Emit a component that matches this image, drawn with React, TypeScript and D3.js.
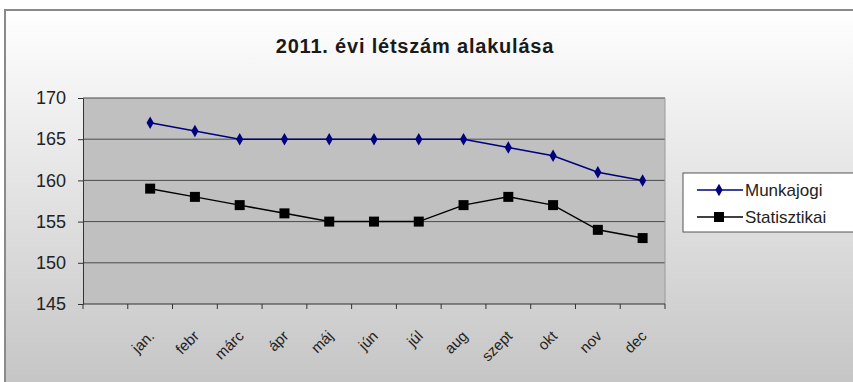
import React, { useEffect, useRef } from 'react';
import { select, scaleBand, scaleLinear, axisLeft, line, symbol, symbolDiamond, symbolSquare } from 'd3';

const months = ['jan.', 'febr', 'márc', 'ápr', 'máj', 'jún', 'júl', 'aug', 'szept', 'okt', 'nov', 'dec'];
const munkajogi = [167, 166, 165, 165, 165, 165, 165, 165, 164, 163, 161, 160];
const statisztikai = [159, 158, 157, 156, 155, 155, 155, 157, 158, 157, 154, 153];
const yTicks = [145, 150, 155, 160, 165, 170];

const W = 853;
const H = 382;
const font = 'Arial, "Liberation Sans", sans-serif';

function App() {
    const ref = useRef<SVGSVGElement>(null);

    useEffect(() => {
        const svg = select(ref.current);
        svg.selectAll('*').remove();

        const plot = { left: 83, right: 665, top: 98, bottom: 304 };

        const defs = svg.append('defs');
        const grad = defs.append('linearGradient')
            .attr('id', 'bg').attr('x1', 0).attr('y1', 0).attr('x2', 0).attr('y2', 1);
        grad.append('stop').attr('offset', '0%').attr('stop-color', '#ffffff');
        grad.append('stop').attr('offset', '100%').attr('stop-color', '#c4c4c4');

        svg.append('rect').attr('width', W).attr('height', H).attr('fill', '#ffffff');
        svg.append('rect')
            .attr('x', 5).attr('y', 10).attr('width', W).attr('height', H)
            .attr('fill', 'url(#bg)')
            .attr('stroke', '#8a8a8a').attr('stroke-width', 2);

        // title
        svg.append('text')
            .attr('x', 415).attr('y', 53)
            .attr('text-anchor', 'middle')
            .attr('font-family', font).attr('font-weight', 'bold').attr('font-size', 20)
            .attr('letter-spacing', 0.8)
            .attr('fill', '#1a1a1a')
            .text('2011. évi létszám alakulása');

        // x: first band empty, like the original sheet
        const xScale = scaleBand<string>()
            .domain(['', ...months])
            .range([plot.left, plot.right]);

        const yScale = scaleLinear()
            .domain([145, 170])
            .range([plot.bottom, plot.top]);

        svg.append('rect')
            .attr('x', plot.left).attr('y', plot.top)
            .attr('width', plot.right - plot.left).attr('height', plot.bottom - plot.top)
            .attr('fill', '#c0c0c0');

        // gridlines
        svg.append('g').selectAll('line')
            .data(yTicks.slice(1))
            .join('line')
            .attr('x1', plot.left).attr('x2', plot.right)
            .attr('y1', d => yScale(d)).attr('y2', d => yScale(d))
            .attr('stroke', '#4a4a4a').attr('stroke-width', 1);

        svg.append('line')
            .attr('x1', plot.right).attr('x2', plot.right)
            .attr('y1', plot.top).attr('y2', plot.bottom)
            .attr('stroke', '#9a9a9a');

        // y axis
        const yAxis = svg.append('g')
            .attr('transform', `translate(${plot.left},0)`)
            .call(axisLeft(yScale).tickValues(yTicks).tickSize(5).tickPadding(12).tickSizeOuter(0));
        yAxis.select('.domain').attr('stroke', '#333');
        yAxis.selectAll('line').attr('stroke', '#333');
        yAxis.selectAll('text')
            .attr('font-family', font).attr('font-size', 18).attr('fill', '#222');

        // x axis
        const xg = svg.append('g');
        xg.append('line')
            .attr('x1', plot.left).attr('x2', plot.right)
            .attr('y1', plot.bottom).attr('y2', plot.bottom)
            .attr('stroke', '#333');
        const edges = xScale.domain().map(d => xScale(d) as number).concat([plot.right]);
        xg.selectAll('.tick')
            .data(edges)
            .join('line')
            .attr('class', 'tick')
            .attr('x1', d => d).attr('x2', d => d)
            .attr('y1', plot.bottom).attr('y2', plot.bottom + 5)
            .attr('stroke', '#333');
        const lx = (d: string) => (xScale(d) as number) + xScale.bandwidth() / 2 + 5;
        const ly = plot.bottom + 33;
        const lbl = xg.selectAll('.lbl')
            .data(months)
            .join('g')
            .attr('class', 'lbl')
            .attr('transform', d => `translate(${lx(d)},${ly}) rotate(-45)`);
        lbl.append('text')
            .attr('text-anchor', 'end')
            .attr('font-family', font).attr('font-size', 15).attr('fill', '#222')
            .text(d => d);

        const cx = (i: number) => (xScale(months[i]) as number) + xScale.bandwidth() / 2;

        const series = [
            { name: 'Munkajogi', values: munkajogi, color: '#000080', sym: symbolDiamond, size: 45 },
            { name: 'Statisztikai', values: statisztikai, color: '#000000', sym: symbolSquare, size: 100 },
        ];

        series.forEach(s => {
            const ln = line<number>().x((_, i) => cx(i)).y(d => yScale(d));
            svg.append('path')
                .datum(s.values)
                .attr('d', ln)
                .attr('fill', 'none')
                .attr('stroke', s.color)
                .attr('stroke-width', 1.5);
            svg.append('g').selectAll('path')
                .data(s.values)
                .join('path')
                .attr('transform', (d, i) => `translate(${cx(i)},${yScale(d)})`)
                .attr('d', symbol(s.sym, s.size)())
                .attr('fill', s.color);
        });

        // legend
        const lg = svg.append('g');
        lg.append('rect')
            .attr('x', 683).attr('y', 173).attr('width', 175).attr('height', 59)
            .attr('fill', '#ffffff').attr('stroke', '#555');
        series.forEach((s, i) => {
            const y = 190 + i * 27;
            lg.append('line')
                .attr('x1', 697).attr('x2', 743).attr('y1', y).attr('y2', y)
                .attr('stroke', s.color).attr('stroke-width', 1.5);
            lg.append('path')
                .attr('transform', `translate(719,${y})`)
                .attr('d', symbol(s.sym, s.size)())
                .attr('fill', s.color);
            lg.append('text')
                .attr('x', 745).attr('y', y + 6)
                .attr('font-family', font).attr('font-size', 17).attr('fill', '#222')
                .text(s.name);
        });
    }, []);

    return (
        <svg ref={ref} width={W} height={H} style={{ position: 'absolute', left: 0, top: 0 }} />
    );
}

export default App;
